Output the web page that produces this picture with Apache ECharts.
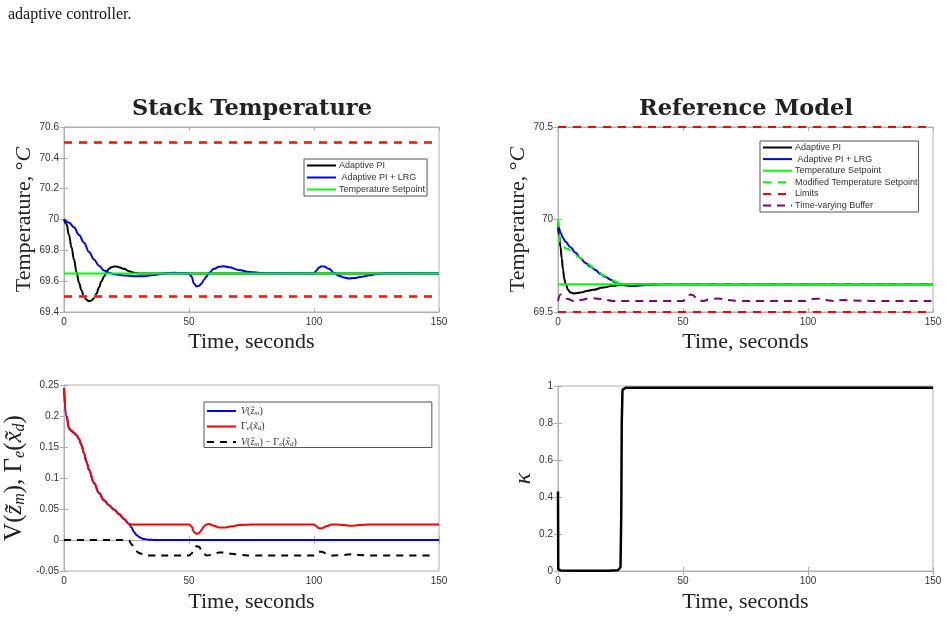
<!DOCTYPE html>
<html>
<head>
<meta charset="utf-8">
<script src="https://cdn.jsdelivr.net/npm/echarts@6/dist/echarts.min.js"></script>
<style>
  html, body { margin: 0; padding: 0; background: #fff; }
  #root { width: 947px; height: 619px; }
</style>
</head>
<body>
<div id="root"></div>
<script>
// ---- data ----
// Stack Temperature (top left)
const tlBlackT = [0, 1, 2, 3, 4, 5, 6, 7, 8, 9, 10, 11, 12, 13, 14, 15, 16, 17, 18, 19, 20, 21, 22, 24, 26, 28, 30, 40, 150];
const tlBlackV = [70.0, 69.97, 69.9, 69.82, 69.74, 69.66, 69.59, 69.54, 69.5, 69.48, 69.47, 69.475, 69.49, 69.52, 69.56, 69.6, 69.63, 69.66, 69.68, 69.69, 69.695, 69.695, 69.69, 69.68, 69.665, 69.655, 69.65, 69.65, 69.65];
const tlBlueT = [0, 2, 4, 6, 8, 10, 12, 14, 16, 18, 20, 24, 28, 32, 36, 40, 44, 48, 50, 51, 52, 53, 54, 55, 56, 57, 58, 60, 62, 64, 66, 70, 74, 80, 100, 101, 102, 103, 104, 106, 108, 110, 112, 114, 116, 119, 122, 125, 130, 135, 150];
const tlBlueV = [70.0, 69.98, 69.95, 69.9, 69.85, 69.79, 69.74, 69.7, 69.67, 69.655, 69.645, 69.637, 69.632, 69.632, 69.64, 69.65, 69.655, 69.652, 69.65, 69.63, 69.585, 69.565, 69.57, 69.585, 69.61, 69.63, 69.655, 69.68, 69.693, 69.697, 69.69, 69.672, 69.66, 69.652, 69.65, 69.67, 69.688, 69.697, 69.695, 69.68, 69.655, 69.635, 69.623, 69.618, 69.62, 69.628, 69.638, 69.646, 69.652, 69.651, 69.65];
const tlSetT = [0, 150];
const tlSetV = [69.65, 69.65];
const tlLimHi = [70.5, 70.5];
const tlLimLo = [69.5, 69.5];

// Reference Model (top right)
const trBlackT = [0, 0.5, 1, 1.5, 2, 2.5, 3, 4, 5, 6.5, 9, 12, 14, 18, 22, 26, 30, 150];
const trBlackV = [69.96, 69.91, 69.85, 69.79, 69.73, 69.68, 69.655, 69.62, 69.605, 69.6, 69.605, 69.615, 69.62, 69.632, 69.642, 69.648, 69.65, 69.65];
const trBlueT = [0, 0.5, 1, 2, 3, 5, 7, 9, 11, 13, 15, 17, 19, 21, 23, 25, 27, 29, 32, 36, 42, 150];
const trBlueV = [69.99, 69.95, 69.93, 69.9, 69.88, 69.85, 69.82, 69.79, 69.765, 69.745, 69.727, 69.705, 69.69, 69.675, 69.66, 69.65, 69.643, 69.64, 69.642, 69.646, 69.65, 69.65];
const trModT = [0, 0.4, 0.8, 2, 4, 6, 8, 10, 12, 14, 16, 18, 20, 22, 24, 26, 150];
const trModV = [70.0, 69.92, 69.86, 69.85, 69.84, 69.82, 69.8, 69.78, 69.76, 69.74, 69.72, 69.7, 69.685, 69.67, 69.658, 69.65, 69.65];
const trBufT = [0, 1, 2, 4, 6, 9, 13, 17, 22, 50, 52, 53, 54, 56, 58, 61, 64, 68, 72, 100, 102, 104, 107, 110, 114, 118, 125, 150];
const trBufV = [69.56, 69.595, 69.59, 69.57, 69.56, 69.565, 69.575, 69.57, 69.56, 69.56, 69.585, 69.595, 69.59, 69.565, 69.56, 69.57, 69.573, 69.565, 69.56, 69.56, 69.57, 69.572, 69.565, 69.56, 69.565, 69.562, 69.56, 69.56];
const trSetV = [69.65, 69.65];
const trLimHi = [70.5, 70.5];
const trLimLo = [69.5, 69.5];

// Lyapunov-like functions (bottom left)
const blGammaT = [0, 1, 2, 3, 4, 5, 6, 7, 8, 9, 10, 12, 14, 16, 18, 20, 22, 24, 26, 27, 50, 51, 52, 53, 54, 55, 56, 57, 58, 60, 62, 64, 67, 70, 75, 100, 101, 102, 103, 105, 107, 109, 112, 115, 118, 122, 150];
const blGammaV = [0.245, 0.2, 0.18, 0.176, 0.173, 0.169, 0.163, 0.153, 0.14, 0.126, 0.113, 0.092, 0.076, 0.064, 0.056, 0.049, 0.042, 0.034, 0.026, 0.025, 0.025, 0.022, 0.013, 0.01, 0.011, 0.016, 0.022, 0.025, 0.026, 0.023, 0.02, 0.02, 0.022, 0.024, 0.025, 0.025, 0.022, 0.019, 0.019, 0.022, 0.025, 0.025, 0.024, 0.023, 0.024, 0.025, 0.025];
const blVT = [0, 1, 2, 3, 4, 5, 6, 7, 8, 9, 10, 12, 14, 16, 18, 20, 22, 24, 26, 27, 28, 29, 30, 31, 32, 34, 36, 150];
const blVV = [0.245, 0.2, 0.18, 0.176, 0.173, 0.169, 0.163, 0.153, 0.14, 0.126, 0.113, 0.092, 0.076, 0.064, 0.056, 0.049, 0.042, 0.034, 0.026, 0.02, 0.013, 0.008, 0.005, 0.003, 0.0015, 0.0005, 0, 0];
const blDiffT = [0, 25, 26, 27, 28, 29, 30, 32, 34, 50, 51, 52, 53, 54, 55, 56, 57, 60, 62, 64, 67, 70, 75, 100, 101, 102, 103, 105, 107, 112, 115, 118, 122, 148];
const blDiffV = [0, 0, -0.001, -0.007, -0.013, -0.018, -0.021, -0.024, -0.025, -0.025, -0.022, -0.013, -0.01, -0.011, -0.016, -0.022, -0.025, -0.023, -0.02, -0.02, -0.022, -0.024, -0.025, -0.025, -0.022, -0.019, -0.019, -0.022, -0.025, -0.024, -0.023, -0.024, -0.025, -0.025];

// kappa (bottom right)
const brKappaT = [0, 0.1, 1, 10, 20, 24, 25, 25.3, 25.5, 25.8, 27, 150];
const brKappaV = [0.43, 0.01, 0.003, 0.002, 0.002, 0.004, 0.02, 0.3, 0.8, 0.98, 0.99, 0.99];

// ---- chart ----
const pair = (ts, vs) => ts.map((t, i) => [t, vs[i]]);
const flat = (vs) => [[0, vs[0]], [150, vs[1]]];

const GRAY = '#b0b0b0';
const SERIF = 'Liberation Serif';
const SANS = 'Liberation Sans';

const grids = [
  { left: 64, top: 127, width: 375, height: 185 },
  { left: 558, top: 127, width: 375, height: 185 },
  { left: 64, top: 385, width: 375, height: 186 },
  { left: 558, top: 386, width: 375, height: 185 }
].map(g => Object.assign(g, {
  show: true, borderColor: GRAY, borderWidth: 1, backgroundColor: '#fff',
  containLabel: false, outerBoundsMode: 'none'
}));

const yRanges = [
  { min: 69.4, max: 70.6, interval: 0.2 },
  { min: 69.5, max: 70.5, interval: 0.5 },
  { min: -0.05, max: 0.25, interval: 0.05 },
  { min: 0, max: 1, interval: 0.2 }
];

const tempRich = { rich: { a: { fontFamily: SERIF, fontSize: 22, color: '#222' }, b: { fontFamily: SERIF, fontSize: 22, fontStyle: 'italic', color: '#222' } } };
const yNames = [
  { name: '{a|Temperature, °}{b|C}', gap: 28, style: tempRich },
  { name: '{a|Temperature, °}{b|C}', gap: 29, style: tempRich },
  {
    name: '{u|V(}{i|z̃}{s|m}{u|), Γ}{s|e}{u|(}{i|x̃}{s|d}{u|)}',
    gap: 36,
    style: {
      rich: {
        u: { fontFamily: SERIF, fontSize: 25, color: '#222' },
        i: { fontFamily: SERIF, fontSize: 25, fontStyle: 'italic', color: '#222' },
        s: { fontFamily: SERIF, fontSize: 16, fontStyle: 'italic', color: '#222', padding: [11, 0, 0, 0] }
      }
    }
  },
  {
    name: '{i|κ}',
    gap: 21,
    style: { rich: { i: { fontFamily: SERIF, fontSize: 24, fontStyle: 'italic', color: '#222' } } }
  }
];
const xGaps = [19, 19, 20, 20];

const tick = { show: true, inside: true, length: 4, lineStyle: { color: GRAY } };
const line = { show: true, lineStyle: { color: GRAY } };

const xAxes = [];
const yAxes = [];
for (let g = 0; g < 4; g++) {
  xAxes.push({
    type: 'value', gridIndex: g, min: 0, max: 150, interval: 50,
    axisLine: line, axisTick: tick, splitLine: { show: false },
    axisLabel: { color: '#333', fontFamily: SANS, fontSize: 10, margin: 5 },
    name: 'Time, seconds', nameLocation: 'middle', nameGap: xGaps[g],
    nameTextStyle: { fontFamily: SERIF, fontSize: 22, color: '#222' }
  });
  yAxes.push({
    type: 'value', gridIndex: g, min: yRanges[g].min, max: yRanges[g].max, interval: yRanges[g].interval,
    axisLine: line, axisTick: tick, splitLine: { show: false },
    axisLabel: { color: '#333', fontFamily: SANS, fontSize: 10, margin: 5 },
    name: yNames[g].name, nameLocation: 'middle', nameGap: yNames[g].gap,
    nameTextStyle: yNames[g].style
  });
}
// opposite-side tick marks (MATLAB box)
for (let g = 0; g < 4; g++) {
  xAxes.push({
    type: 'value', gridIndex: g, position: 'top', min: 0, max: 150, interval: 50,
    axisLine: line, axisTick: tick, axisLabel: { show: false }, splitLine: { show: false }
  });
  yAxes.push({
    type: 'value', gridIndex: g, position: 'right', min: yRanges[g].min, max: yRanges[g].max, interval: yRanges[g].interval,
    axisLine: line, axisTick: tick, axisLabel: { show: false }, splitLine: { show: false }
  });
}

function ser(name, g, data, color, opts) {
  opts = opts || {};
  return {
    type: 'line', name: name, xAxisIndex: g, yAxisIndex: g, data: data,
    symbol: 'none', smooth: opts.smooth === undefined ? 0.4 : opts.smooth, smoothMonotone: 'x',
    lineStyle: { color: color, width: opts.width || 2, type: opts.dash || 'solid' },
    itemStyle: { color: color }, z: opts.z || 2, silent: true
  };
}

const series = [
  // top left
  ser('Adaptive PI', 0, pair(tlBlackT, tlBlackV), '#000000'),
  ser('Adaptive PI + LRG', 0, pair(tlBlueT, tlBlueV), '#0000ff'),
  ser('Temperature Setpoint', 0, pair(tlSetT, tlSetV), '#00ff00', { smooth: false }),
  ser('tlLimHiG', 0, flat(tlLimHi), '#3cc83c', { smooth: false, dash: [8, 7], width: 3 }),
  ser('tlLimLoG', 0, flat(tlLimLo), '#3cc83c', { smooth: false, dash: [8, 7], width: 3 }),
  ser('tlLimHi', 0, flat(tlLimHi), '#ff1a00', { smooth: false, dash: [8, 7], width: 2, z: 3 }),
  ser('tlLimLo', 0, flat(tlLimLo), '#ff1a00', { smooth: false, dash: [8, 7], width: 2, z: 3 }),
  // top right
  ser('Adaptive PI', 1, pair(trBlackT, trBlackV), '#000000'),
  ser('Adaptive PI + LRG', 1, pair(trBlueT, trBlueV), '#0000ff'),
  ser('Temperature Setpoint', 1, flat(trSetV), '#00ff00', { smooth: false }),
  ser('Modified Temperature Setpoint', 1, pair(trModT, trModV), '#00ff00', { dash: [8, 7] }),
  ser('Limits', 1, flat(trLimHi), '#ff0000', { smooth: false, dash: [8, 7] }),
  ser('Limits', 1, flat(trLimLo), '#ff0000', { smooth: false, dash: [8, 7] }),
  ser('Time-varying Buffer', 1, pair(trBufT, trBufV), '#800080', { dash: [8, 6] }),
  // bottom left
  ser('V(z̃m)', 2, pair(blVT, blVV), '#0000ff'),
  ser('Γe(x̃d)', 2, pair(blGammaT, blGammaV), '#ff0000', { z: 3 }),
  ser('V(z̃m) − Γe(x̃d)', 2, pair(blDiffT, blDiffV), '#000000', { dash: [7, 6] }),
  // bottom right
  ser('kappa', 3, pair(brKappaT, brKappaV), '#000000', { smooth: false, width: 2.5 })
];

const legendBase = {
  orient: 'vertical', itemWidth: 29, itemHeight: 8, selectedMode: false,
  backgroundColor: '#fff', borderColor: '#555', borderWidth: 1, borderRadius: 0,
  itemStyle: { opacity: 0 },
  textStyle: { fontFamily: SANS, fontSize: 9, color: '#333', padding: [0, 0, 0, -2] }
};

const blRich = {
  i: { fontFamily: SERIF, fontSize: 10, fontStyle: 'italic', color: '#333' },
  u: { fontFamily: SERIF, fontSize: 10, color: '#333' },
  s: { fontFamily: SERIF, fontSize: 7, fontStyle: 'italic', color: '#333', padding: [4, 0, 0, 0] }
};
const blLabels = {
  'V(z̃m)': '{i|V}{u|(}{i|z̃}{s|m}{u|)}',
  'Γe(x̃d)': '{u|Γ}{s|e}{u|(}{i|x̃}{s|d}{u|)}',
  'V(z̃m) − Γe(x̃d)': '{i|V}{u|(}{i|z̃}{s|m}{u|) − Γ}{s|e}{u|(}{i|x̃}{s|d}{u|)}'
};
const lrgLabel = n => (n === 'Adaptive PI + LRG' ? ' ' + n : n);

const legends = [
  Object.assign({}, legendBase, {
    data: ['Adaptive PI', 'Adaptive PI + LRG', 'Temperature Setpoint'],
    left: 304, top: 159, itemGap: 3, padding: [2, 2, 2, 2], formatter: lrgLabel
  }),
  Object.assign({}, legendBase, {
    data: ['Adaptive PI', 'Adaptive PI + LRG', 'Temperature Setpoint', 'Modified Temperature Setpoint', 'Limits', 'Time-varying Buffer'],
    left: 760, top: 141, itemGap: 2.6, padding: [2, 1, 2, 2], formatter: lrgLabel
  }),
  Object.assign({}, legendBase, {
    data: ['V(z̃m)', 'Γe(x̃d)', 'V(z̃m) − Γe(x̃d)'],
    left: 204, top: 402, itemGap: 5, padding: [4, 135, 0, 2],
    formatter: n => blLabels[n],
    textStyle: { fontFamily: SERIF, fontSize: 10, color: '#333', rich: blRich }
  })
];

const chart = echarts.init(document.getElementById('root'), null, { renderer: 'canvas' });
chart.setOption({
  animation: false,
  backgroundColor: '#fff',
  grid: grids,
  xAxis: xAxes,
  yAxis: yAxes,
  legend: legends,
  series: series,
  graphic: [
    { type: 'text', left: 8, top: 7, style: { text: 'adaptive controller.', fontFamily: SERIF, fontSize: 16, fill: '#111' } },
    { type: 'text', x: 252, y: 109, style: { text: 'Stack Temperature', align: 'center', verticalAlign: 'middle', fontFamily: 'DejaVu Serif', fontWeight: 'bold', fontSize: 22.5, fill: '#222' } },
    { type: 'text', x: 746, y: 109, style: { text: 'Reference Model', align: 'center', verticalAlign: 'middle', fontFamily: 'DejaVu Serif', fontWeight: 'bold', fontSize: 22.5, fill: '#222' } }
  ]
});
</script>
</body>
</html>
